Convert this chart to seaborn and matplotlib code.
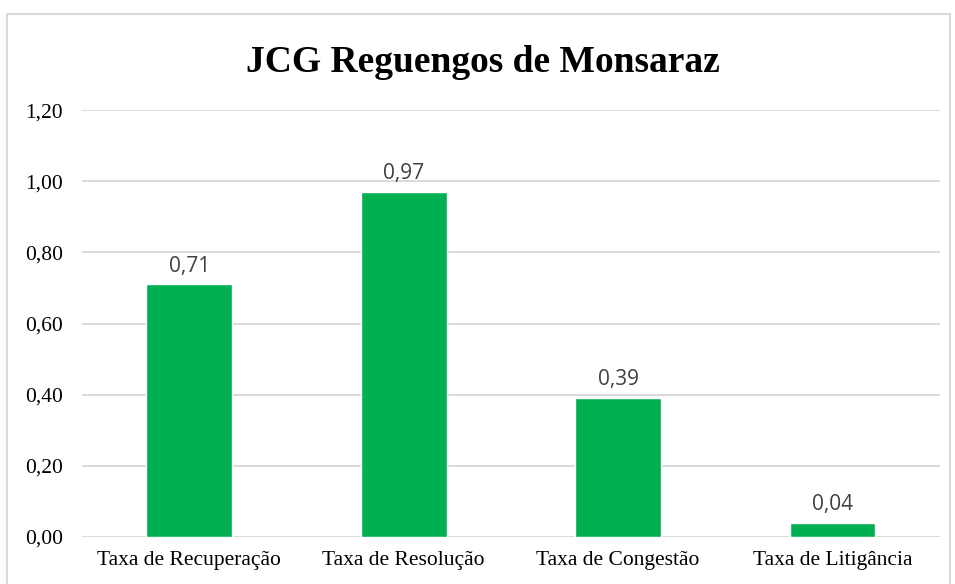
import pandas as pd
import matplotlib.pyplot as plt
import seaborn as sns
from matplotlib.patches import Rectangle
from matplotlib.ticker import FuncFormatter

# data
categories = ['Taxa de Recuperação', 'Taxa de Resolução', 'Taxa de Congestão', 'Taxa de Litigância']
values = [0.71, 0.97, 0.39, 0.04]
title = 'JCG Reguengos de Monsaraz'

df = pd.DataFrame({'Taxa': categories, 'Valor': values})

sns.set_style('white')
plt.rcParams['font.family'] = ['Liberation Serif', 'DejaVu Serif']

fig = plt.figure(figsize=(9.55, 5.84), dpi=100)
ax = fig.add_axes([0.086, 0.0805, 0.898, 0.731])

sns.barplot(data=df, x='Taxa', y='Valor', color='#00B050', width=0.40,
            saturation=1, ax=ax, zorder=3)

# value labels in a sans font, like the spreadsheet original
for i, v in enumerate(values):
    ax.text(i, v + 0.022, f'{v:.2f}'.replace('.', ','), ha='center', va='bottom',
            fontsize=15, color='#404040', family=['Open Sans', 'DejaVu Sans'])

ax.set_ylim(0, 1.20)
ax.set_yticks([0, 0.2, 0.4, 0.6, 0.8, 1.0, 1.2])
ax.yaxis.set_major_formatter(FuncFormatter(lambda y, _: f'{y:.2f}'.replace('.', ',')))
ax.grid(axis='y', color='#D9D9D9', linewidth=1.4, zorder=0)
ax.set_xlim(-0.5, 3.5)
ax.set_xlabel('')
ax.set_ylabel('')
ax.tick_params(axis='y', length=0, pad=14, labelsize=15.5, labelcolor='black')
ax.tick_params(axis='x', length=0, pad=10, labelsize=15.5, labelcolor='black')
sns.despine(ax=ax, left=True, bottom=True, top=True, right=True)

fig.text(0.506, 0.893, title, ha='center', va='center', fontsize=27,
         fontweight='bold', color='black')

# chart-area border
fig.patches.append(Rectangle((7 / 955, -0.05), 943 / 955, 1.05 - 14 / 584,
                             transform=fig.transFigure, fill=False,
                             edgecolor='#D9D9D9', linewidth=1.5))

fig.savefig('out.png', dpi=100)
